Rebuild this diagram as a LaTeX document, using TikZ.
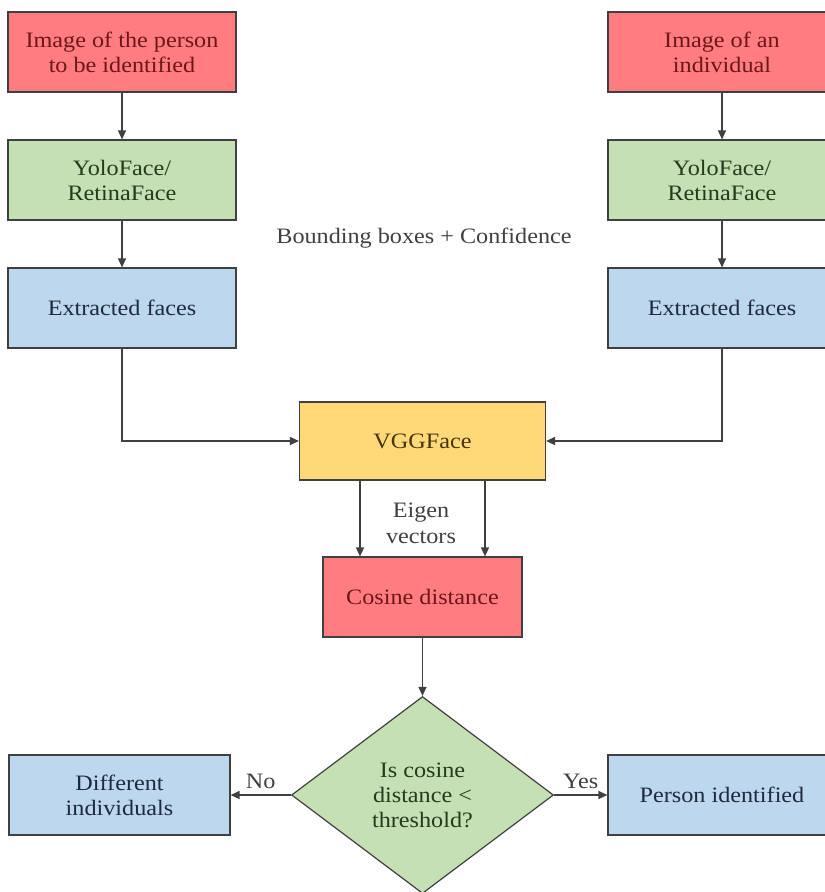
\documentclass[tikz,border=0pt]{standalone}
\usepackage{fontspec}
\setmainfont[FakeStretch=1.1]{Liberation Serif}
\usepackage{tikz}
\usetikzlibrary{arrows.meta,shapes.geometric,positioning}

\definecolor{boxred}{RGB}{255,124,128}
\definecolor{boxgreen}{RGB}{197,224,180}
\definecolor{boxblue}{RGB}{189,215,238}
\definecolor{boxyellow}{RGB}{255,217,120}
\definecolor{txtred}{RGB}{110,22,24}
\definecolor{txtgreen}{RGB}{38,58,28}
\definecolor{txtblue}{RGB}{30,42,62}
\definecolor{txtyellow}{RGB}{72,52,10}
\definecolor{edgegray}{RGB}{64,64,64}

\tikzset{
  block/.style={rectangle,draw=edgegray,line width=1.2pt,align=center,
    minimum width=228pt,minimum height=80pt,inner sep=0pt,
    font=\fontsize{22}{25}\selectfont},
  inbox/.style={block,fill=boxred,text=txtred},
  detbox/.style={block,fill=boxgreen,text=txtgreen},
  facebox/.style={block,fill=boxblue,text=txtblue},
  decision/.style={diamond,draw=edgegray,line width=1.2pt,fill=boxgreen,
    text=txtgreen,align=center,inner sep=0pt,aspect=1.33,
    minimum width=262pt,minimum height=197pt,
    font=\fontsize{22}{25}\selectfont},
  note/.style={text=black!75,align=center,font=\fontsize{22}{26}\selectfont}
}

\begin{document}
\begin{tikzpicture}[x=1pt,y=-1pt,>={Triangle[length=9pt,width=8pt]},
    line width=1.3pt,color=edgegray]
    \clip (0,0) rectangle (825,892);

    \node[inbox] (img1) at (122,52) {Image of the person\\to be identified};
    \node[inbox] (img2) at (722,52) {Image of an\\individual};
    \node[detbox] (yolo1) at (122,180) {YoloFace/\\RetinaFace};
    \node[detbox] (yolo2) at (722,180) {YoloFace/\\RetinaFace};
    \node[note] (bbox) at (424,238) {Bounding boxes + Confidence};
    \node[facebox] (ext1) at (122,308) {Extracted faces};
    \node[facebox] (ext2) at (722,308) {Extracted faces};

    \node[block,fill=boxyellow,text=txtyellow,minimum width=246pt,minimum height=78pt]
      (vgg) at (422.5,441) {VGGFace};
    \node[inbox,minimum width=199pt,minimum height=80pt] (cos) at (422.5,597) {Cosine distance};
    \node[note] (eigen) at (421,523) {Eigen\\vectors};

    \node[decision] (check) at (422.5,795) {Is cosine\\distance <\\threshold?};
    \node[facebox,minimum width=221pt] (diff) at (119.5,795) {Different\\individuals};
    \node[facebox] (pid) at (722,795) {Person identified};

    \path[->]
    (img1) edge (yolo1)
    (yolo1) edge (ext1)
    (img2) edge (yolo2)
    (yolo2) edge (ext2)

    ([xshift=-62.5pt]vgg.south) edge ([xshift=-62.5pt]cos.north)
    ([xshift=62.5pt]vgg.south) edge ([xshift=62.5pt]cos.north)
    (cos) edge (check)

    (check) edge node[above=2pt,note] {No} (diff)
    (check) edge node[above=2pt,note] {Yes} (pid)
    ;

    \draw[->] (ext1) |- (vgg);
    \draw[->] (ext2) |- (vgg);
  \end{tikzpicture}
\end{document}
